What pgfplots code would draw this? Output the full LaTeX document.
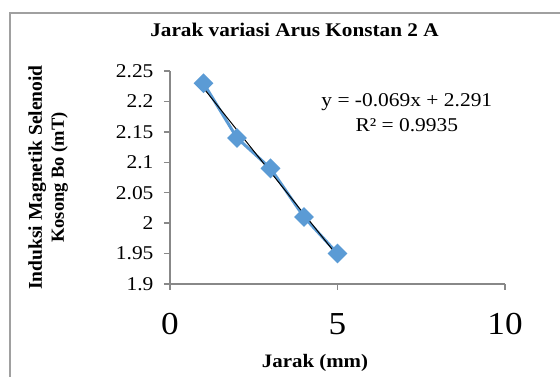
\documentclass[border=0pt]{standalone}
\usepackage{fontspec}
\setmainfont[FakeStretch=1.1]{Liberation Serif}
\newfontfamily\narrowfont{Liberation Serif}
\usepackage{pgfplots}
\pgfplotsset{compat=1.18}
\definecolor{serblue}{HTML}{5B9BD5}
\definecolor{axgray}{HTML}{888888}
\definecolor{bordergray}{HTML}{A0A0A0}
\begin{document}
\begin{tikzpicture}[x=1pt,y=1pt]
\path[use as bounding box] (0,0) rectangle (560,377);
\draw[bordergray, line width=2pt] (10,-20) -- (10,364) -- (600,364);
\begin{axis}[
  at={(170pt,93pt)}, anchor=south west,
  scale only axis, width=335pt, height=213pt,
  xmin=0, xmax=10, ymin=1.9, ymax=2.25,
  axis x line*=bottom, axis y line*=left,
  axis line style={axgray, line width=1.5pt, -},
  xtick={0,5,10},
  ytick={1.9,1.95,2,2.05,2.1,2.15,2.2,2.25},
  scaled y ticks=false,
  tick align=outside, major tick length=6pt,
  tick style={axgray, line width=1.5pt},
  /pgf/number format/assume math mode=true,
  yticklabel style={font=\fontsize{19.5}{20}\selectfont, xshift=-7pt, /pgf/number format/fixed, /pgf/number format/precision=2},
  xticklabel style={font=\fontsize{32}{32}\selectfont, yshift=-20pt},
  title={Jarak variasi Arus Konstan 2 A},
  title style={at={(rel axis cs:0.3716,1.165)}, anchor=center, font=\bfseries\fontsize{19.3}{20}\selectfont},
  xlabel={Jarak (mm)},
  xlabel style={at={(rel axis cs:0.4328,-0.37)}, anchor=center, font=\bfseries\fontsize{19}{20}\selectfont},
  ylabel={Induksi Magnetik Selenoid\\{\fontsize{18.5}{22}\selectfont Kosong Bo (mT)}},
  ylabel style={at={(rel axis cs:-0.364,0.5)}, anchor=center, align=center, font=\narrowfont\bfseries\fontsize{19.5}{22}\selectfont},
  clip=false,
]
\addplot[serblue, line width=3pt, mark=square*, mark size=5.5pt, mark options={rotate=45, solid, fill=serblue}]
  coordinates {(1,2.23)(2,2.14)(3,2.09)(4,2.01)(5,1.95)};
\addplot[black, line width=1pt] coordinates {(1,2.222)(5,1.946)};
\node[align=center, font=\fontsize{19.5}{25}\selectfont] at (axis cs:7.07,2.182) {y = -0.069x + 2.291\\R² = 0.9935};
\end{axis}
\end{tikzpicture}
\end{document}
